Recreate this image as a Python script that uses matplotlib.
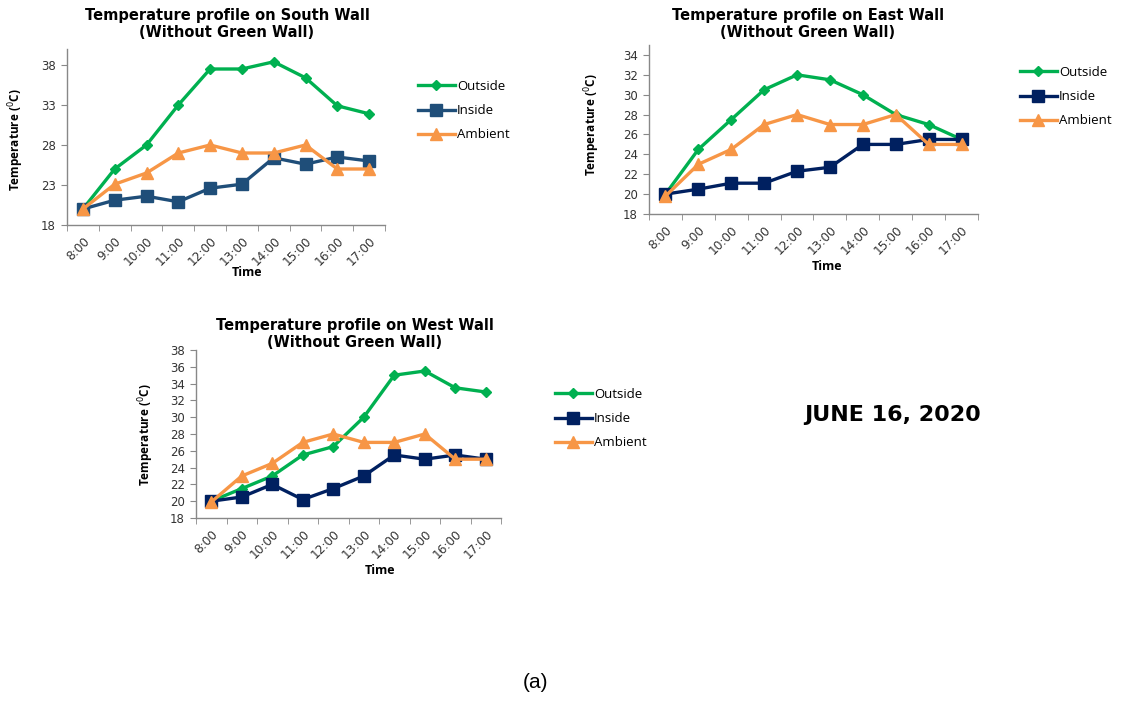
import matplotlib
matplotlib.use("Agg")
import matplotlib.pyplot as plt
import numpy as np

times = ["8:00", "9:00", "10:00", "11:00", "12:00", "13:00", "14:00", "15:00", "16:00", "17:00"]

south_outside = [20, 25, 28, 33, 37.5, 37.5, 38.4, 36.4, 32.9, 31.9]
south_inside = [20, 21.1, 21.6, 20.9, 22.6, 23.1, 26.4, 25.6, 26.5, 26.0]
south_ambient = [20, 23.1, 24.5, 27, 28, 27, 27, 28, 25, 25]

east_outside = [20, 24.5, 27.5, 30.5, 32, 31.5, 30, 28, 27, 25.5]
east_inside = [20, 20.5, 21.1, 21.1, 22.3, 22.7, 25, 25, 25.5, 25.5]
east_ambient = [19.8, 23, 24.5, 27, 28, 27, 27, 28, 25, 25]

west_outside = [20, 21.5, 23, 25.5, 26.5, 30, 35, 35.5, 33.5, 33]
west_inside = [20, 20.5, 22, 20.2, 21.5, 23, 25.5, 25, 25.5, 25]
west_ambient = [19.9, 23, 24.5, 27, 28, 27, 27, 28, 25, 25]

GREEN = "#00B050"
ORANGE = "#F79646"
BLUE_S = "#1F4E79"
NAVY = "#002060"

W, H = 1131, 701
fig = plt.figure(figsize=(W / 100, H / 100), dpi=100)

TICKFONT = "DejaVu Sans"
BOLDFONT = "Open Sans"

def px_axes(l, r, t, b):
    return [l / W, 1 - b / H, (r - l) / W, (b - t) / H]

def make_panel(rect, outside, inside, ambient, inside_col, ylim, yticks,
               title_xy, ylab_xy, xlab_xy, leg_xy, title):
    ax = fig.add_axes(px_axes(*rect))
    x = np.arange(len(times))
    ax.plot(x, outside, color=GREEN, lw=2.4, marker="D", ms=5, label="Outside")
    ax.plot(x, inside, color=inside_col, lw=2.4, marker="s", ms=8, label="Inside")
    ax.plot(x, ambient, color=ORANGE, lw=2.4, marker="^", ms=8, label="Ambient")
    ax.set_xlim(-0.5, len(times) - 0.5)
    ax.set_ylim(*ylim)
    ax.set_yticks(yticks)
    ax.set_yticklabels([str(v) for v in yticks], fontsize=8.5, family=TICKFONT, color="#333333")
    ax.set_xticks(x)
    ax.set_xticklabels(times, rotation=45, ha="right", rotation_mode="anchor",
                       fontsize=8.7, family=TICKFONT, color="#333333")
    ax.set_xticks(np.arange(-0.5, len(times)), minor=True)
    ax.tick_params(axis="x", which="major", length=0, pad=7)
    ax.tick_params(axis="x", which="minor", length=4, color="#888888", direction="out")
    ax.tick_params(axis="y", length=4, color="#888888", direction="out", pad=4)
    for s in ["top", "right"]:
        ax.spines[s].set_visible(False)
    for s in ["left", "bottom"]:
        ax.spines[s].set_color("#888888")
        ax.spines[s].set_linewidth(1.0)
    fig.text(title_xy[0] / W, 1 - title_xy[1] / H, title, ha="center", va="center",
             fontsize=10.5, fontweight="bold", family="DejaVu Sans", linespacing=1.2)
    fig.text(ylab_xy[0] / W, 1 - ylab_xy[1] / H, r"Temperature ($^{0}$C)", rotation=90,
             ha="center", va="center", fontsize=8.5, fontweight="bold", family=BOLDFONT)
    fig.text(xlab_xy[0] / W, 1 - xlab_xy[1] / H, "Time", ha="center", va="center",
             fontsize=9, fontweight="bold", family=BOLDFONT)
    ax.legend(loc="upper left", bbox_to_anchor=(leg_xy[0] / W, 1 - leg_xy[1] / H),
              bbox_transform=fig.transFigure, frameon=False, handlelength=2.8,
              handletextpad=0.15, labelspacing=0.85, borderpad=0, borderaxespad=0,
              prop={"family": "Open Sans", "size": 9.5})
    return ax

make_panel((67, 385, 49, 225), south_outside, south_inside, south_ambient, BLUE_S,
           (18, 40), [18, 23, 28, 33, 38], (227, 24), (16, 140), (247, 273), (418, 80),
           "Temperature profile on South Wall\n(Without Green Wall)")

make_panel((649, 978, 45, 214), east_outside, east_inside, east_ambient, NAVY,
           (18, 35), list(range(18, 35, 2)), (808, 24), (592, 125), (827, 267), (1020, 66),
           "Temperature profile on East Wall\n(Without Green Wall)")

make_panel((196, 501, 350, 518), west_outside, west_inside, west_ambient, NAVY,
           (18, 38), list(range(18, 39, 2)), (355, 334), (146, 435), (380, 571), (555, 388),
           "Temperature profile on West Wall\n(Without Green Wall)")

fig.text(893 / W, 1 - 415 / H, "JUNE 16, 2020", ha="center", va="center",
         fontsize=16, fontweight="bold", family="DejaVu Sans")
fig.text(536 / W, 1 - 683 / H, "(a)", ha="center", va="center",
         fontsize=15, family="Liberation Sans")

fig.savefig("out.png", dpi=100)
